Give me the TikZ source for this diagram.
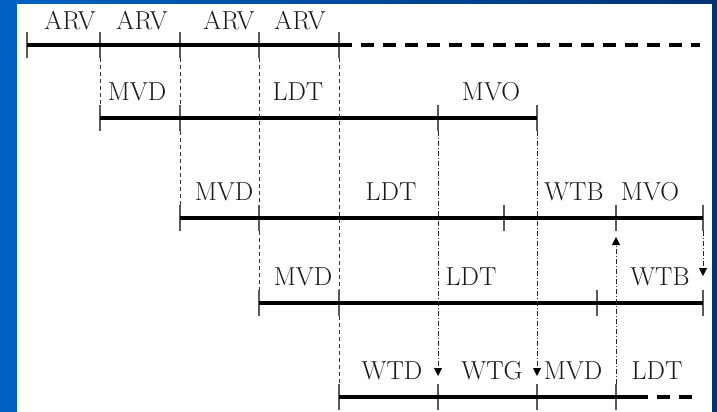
\documentclass[tikz,border=0pt]{standalone}
\usetikzlibrary{arrows.meta}
\definecolor{frameblue}{RGB}{0,98,194}
\definecolor{framenavy}{RGB}{0,50,118}
\begin{document}
\begin{tikzpicture}%
	[x=1pt, y=-1pt,
	phase/.style={line width=3.6pt, color=black},
	phasedashed/.style={phase, dash pattern=on 13pt off 9pt},
	tick/.style={line width=1.2pt, color=black!65},
	link/.style={line width=1pt, color=black!80, dash pattern=on 4pt off 3pt},
	wait/.style={line width=1pt, color=black!85, dash pattern=on 5pt off 2pt on 1pt off 2pt,
		-{Triangle[width=8pt,length=8pt,color=black]}},
	label/.style={inner sep=0pt, font=\fontsize{26}{30}\selectfont, text=black!90}]
	% frame
	\shade[left color=frameblue, right color=framenavy] (0,0) rectangle (717,412);
	\fill[white] (17,4) rectangle (712,412);

	% ticks of the five rows
	\foreach \r/\y/\xs in {1/45/{27,100,180,259,339}, 2/118/{100,180,438,537},
		3/218/{180,259,504,616,703}, 4/303/{259,339,597,703}, 5/397/{339,438,537,616}}{
		\foreach \x in \xs{
			\draw[tick] (\x,\y-13) coordinate (t\r-\x) -- (\x,\y+13) coordinate (b\r-\x);
			\coordinate (m\r-\x) at (\x,\y);
		}
	}
	\coordinate (cut1) at (352,45);
	\coordinate (end1) at (700,45);
	\coordinate (cut5) at (648,397);
	\coordinate (end5) at (693,397);

	% phases
	\draw[phase] (m1-27) -- (cut1);
	\draw[phasedashed, dash phase=13pt] (cut1) -- (end1);
	\draw[phase] (m2-100) -- (m2-537);
	\draw[phase] (m3-180) -- (m3-703);
	\draw[phase] (m4-259) -- (m4-703);
	\draw[phase] (m5-339) -- (cut5);
	\draw[phasedashed, dash phase=13pt] (cut5) -- (end5);

	% links between rows
	\draw[link] (b1-100) -- (t2-100);
	\draw[link] (b1-180) -- (t2-180);
	\draw[link] (b2-180) -- (t3-180);
	\draw[link] (b1-259) -- (t3-259);
	\draw[link] (b3-259) -- (t4-259);
	\draw[link] (b1-339) -- (t4-339);
	\draw[link] (b4-339) -- (t5-339);

	% waits
	\coordinate (w1) at (438,376);
	\coordinate (w2) at (537,376);
	\coordinate (w3) at (616,237);
	\coordinate (w4) at (703,276);
	\draw[wait] (b2-438) -- (w1);
	\draw[wait] (b2-537) -- (w2);
	\draw[wait] (t5-616) -- (w3);
	\draw[wait] (b3-703) -- (w4);

	% labels
	\node[label] (arv1) at (70,21)  {ARV};
	\node[label] (arv2) at (142,21) {ARV};
	\node[label] (arv3) at (229,21) {ARV};
	\node[label] (arv4) at (300,21) {ARV};
	\node[label] (mvd2) at (137,92) {MVD};
	\node[label] (ldt2) at (298,92) {LDT};
	\node[label] (mvo2) at (491,92) {MVO};
	\node[label] (mvd3) at (224,192) {MVD};
	\node[label] (ldt3) at (391,192) {LDT};
	\node[label] (wtb3) at (574,192) {WTB};
	\node[label] (mvo3) at (650,192) {MVO};
	\node[label] (mvd4) at (303,277) {MVD};
	\node[label] (ldt4) at (471,277) {LDT};
	\node[label] (wtb4) at (660,277) {WTB};
	\node[label] (wtd5) at (392,371) {WTD};
	\node[label] (wtg5) at (492,371) {WTG};
	\node[label] (mvd5) at (573,371) {MVD};
	\node[label] (ldt5) at (657,371) {LDT};
\end{tikzpicture}
\end{document}
